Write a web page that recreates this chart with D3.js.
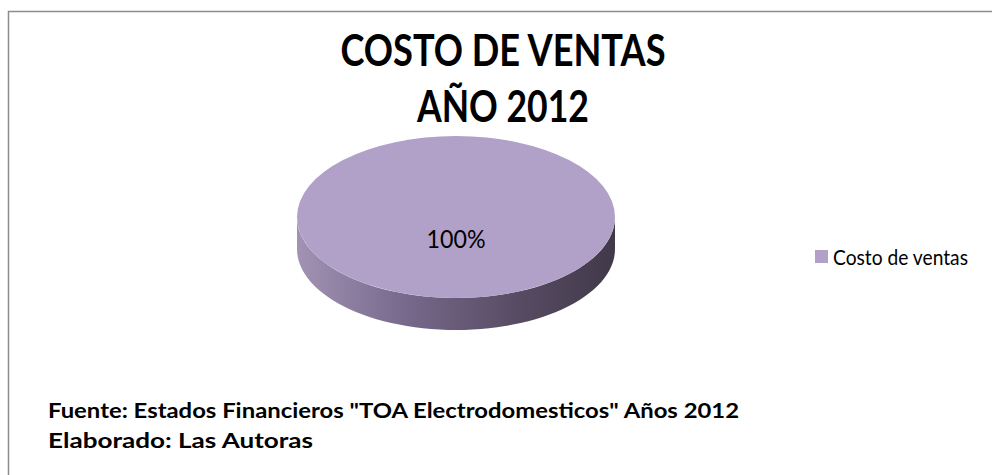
<!DOCTYPE html>
<html lang="es">
<head>
  <meta charset="UTF-8" />
  <title>Costo de ventas 2012</title>
  <style>
    body {
      margin: 0;
      background: #fff;
    }
    svg text {
      font-family: Lato, "Open Sans", sans-serif;
      fill: #000;
    }
  </style>
  <script src="https://d3js.org/d3.v7.min.js"></script>
</head>
<body>
  <div id="chart"></div>
  <script>
    const width = 992;
    const height = 475;

    // chart data
    const categories = ["Costo de ventas"];
    const values = [100];
    const titleLines = ["COSTO DE VENTAS", "AÑO 2012"];
    const notes = ['Fuente: Estados Financieros "TOA Electrodomesticos" Años 2012', "Elaborado: Las Autoras"];

    const topColor = "#b1a0c7";

    const svg = d3.select("#chart")
      .append("svg")
      .attr("width", width)
      .attr("height", height);

    // side gradient (light on the left, dark on the right)
    const grad = svg.append("defs").append("linearGradient")
      .attr("id", "side")
      .attr("x1", "0%").attr("x2", "100%")
      .attr("y1", "0%").attr("y2", "0%");
    grad.append("stop").attr("offset", "0%").attr("stop-color", "#a293b5");
    grad.append("stop").attr("offset", "35%").attr("stop-color", "#76688a");
    grad.append("stop").attr("offset", "70%").attr("stop-color", "#574b63");
    grad.append("stop").attr("offset", "100%").attr("stop-color", "#413949");

    // outer frame (only top and left edges show)
    svg.append("rect")
      .attr("x", 8.5)
      .attr("y", 11.5)
      .attr("width", width + 20)
      .attr("height", height + 20)
      .attr("fill", "none")
      .attr("stroke", "#8c8c8c")
      .attr("stroke-width", 1.5);

    // title
    const titleWidths = [325, 172];
    svg.append("g")
      .selectAll("text")
      .data(titleLines)
      .join("text")
      .attr("x", 503)
      .attr("y", (d, i) => 66 + i * 56)
      .attr("text-anchor", "middle")
      .attr("font-size", 43)
      .attr("font-weight", "bold")
      .attr("textLength", (d, i) => titleWidths[i])
      .attr("lengthAdjust", "spacingAndGlyphs")
      .text(d => d);

    // 3D pie
    const cx = 456, cy = 217, rx = 159, ry = 81, depth = 32;
    const pie = d3.pie().sort(null);
    const slices = pie(values);

    // map a pie angle (0 at top, clockwise) onto the ellipse
    const pt = (a, dy) => [cx + rx * Math.sin(a), cy - ry * Math.cos(a) + (dy || 0)];

    const sideG = svg.append("g");
    slices.forEach(s => {
      // only the front half (angles between PI/2 and 3PI/2) is visible
      const a0 = Math.max(s.startAngle, Math.PI / 2);
      const a1 = Math.min(s.endAngle, 3 * Math.PI / 2);
      if (a1 <= a0) return;
      const steps = d3.range(0, 61).map(k => a0 + (a1 - a0) * k / 60);
      const top = steps.map(a => pt(a, 0));
      const bottom = steps.slice().reverse().map(a => pt(a, depth));
      sideG.append("path")
        .attr("d", d3.line()(top.concat(bottom)) + "Z")
        .attr("fill", "url(#side)");
    });

    const arc = d3.arc().innerRadius(0).outerRadius(1);
    svg.append("g")
      .attr("transform", `translate(${cx},${cy}) scale(${rx},${ry})`)
      .selectAll("path")
      .data(slices)
      .join("path")
      .attr("d", arc)
      .attr("fill", topColor);

    // data label
    const total = d3.sum(values);
    svg.append("g")
      .selectAll("text")
      .data(slices)
      .join("text")
      .attr("x", d => {
        if (d.endAngle - d.startAngle >= 2 * Math.PI - 1e-6) return cx;
        return cx + rx * 0.6 * Math.sin((d.startAngle + d.endAngle) / 2);
      })
      .attr("y", d => {
        if (d.endAngle - d.startAngle >= 2 * Math.PI - 1e-6) return cy + 31;
        return cy - ry * 0.6 * Math.cos((d.startAngle + d.endAngle) / 2) + 8;
      })
      .attr("text-anchor", "middle")
      .attr("font-size", 25)
      .attr("textLength", 59)
      .attr("lengthAdjust", "spacingAndGlyphs")
      .text(d => Math.round(d.value / total * 100) + "%");

    // legend
    const legend = svg.append("g")
      .selectAll("g")
      .data(categories)
      .join("g")
      .attr("transform", (d, i) => `translate(815,${250 + i * 26})`);
    legend.append("rect")
      .attr("width", 13)
      .attr("height", 13)
      .attr("fill", topColor);
    legend.append("text")
      .attr("x", 18)
      .attr("y", 15)
      .attr("font-size", 22)
      .attr("textLength", 135)
      .attr("lengthAdjust", "spacingAndGlyphs")
      .text(d => d);

    // source notes
    const noteWidths = [691, 265];
    svg.append("g")
      .selectAll("text")
      .data(notes)
      .join("text")
      .attr("x", 48)
      .attr("y", (d, i) => 418 + i * 30)
      .attr("font-size", 21)
      .attr("font-weight", "bold")
      .attr("textLength", (d, i) => noteWidths[i])
      .attr("lengthAdjust", "spacingAndGlyphs")
      .text(d => d);
  </script>
</body>
</html>
